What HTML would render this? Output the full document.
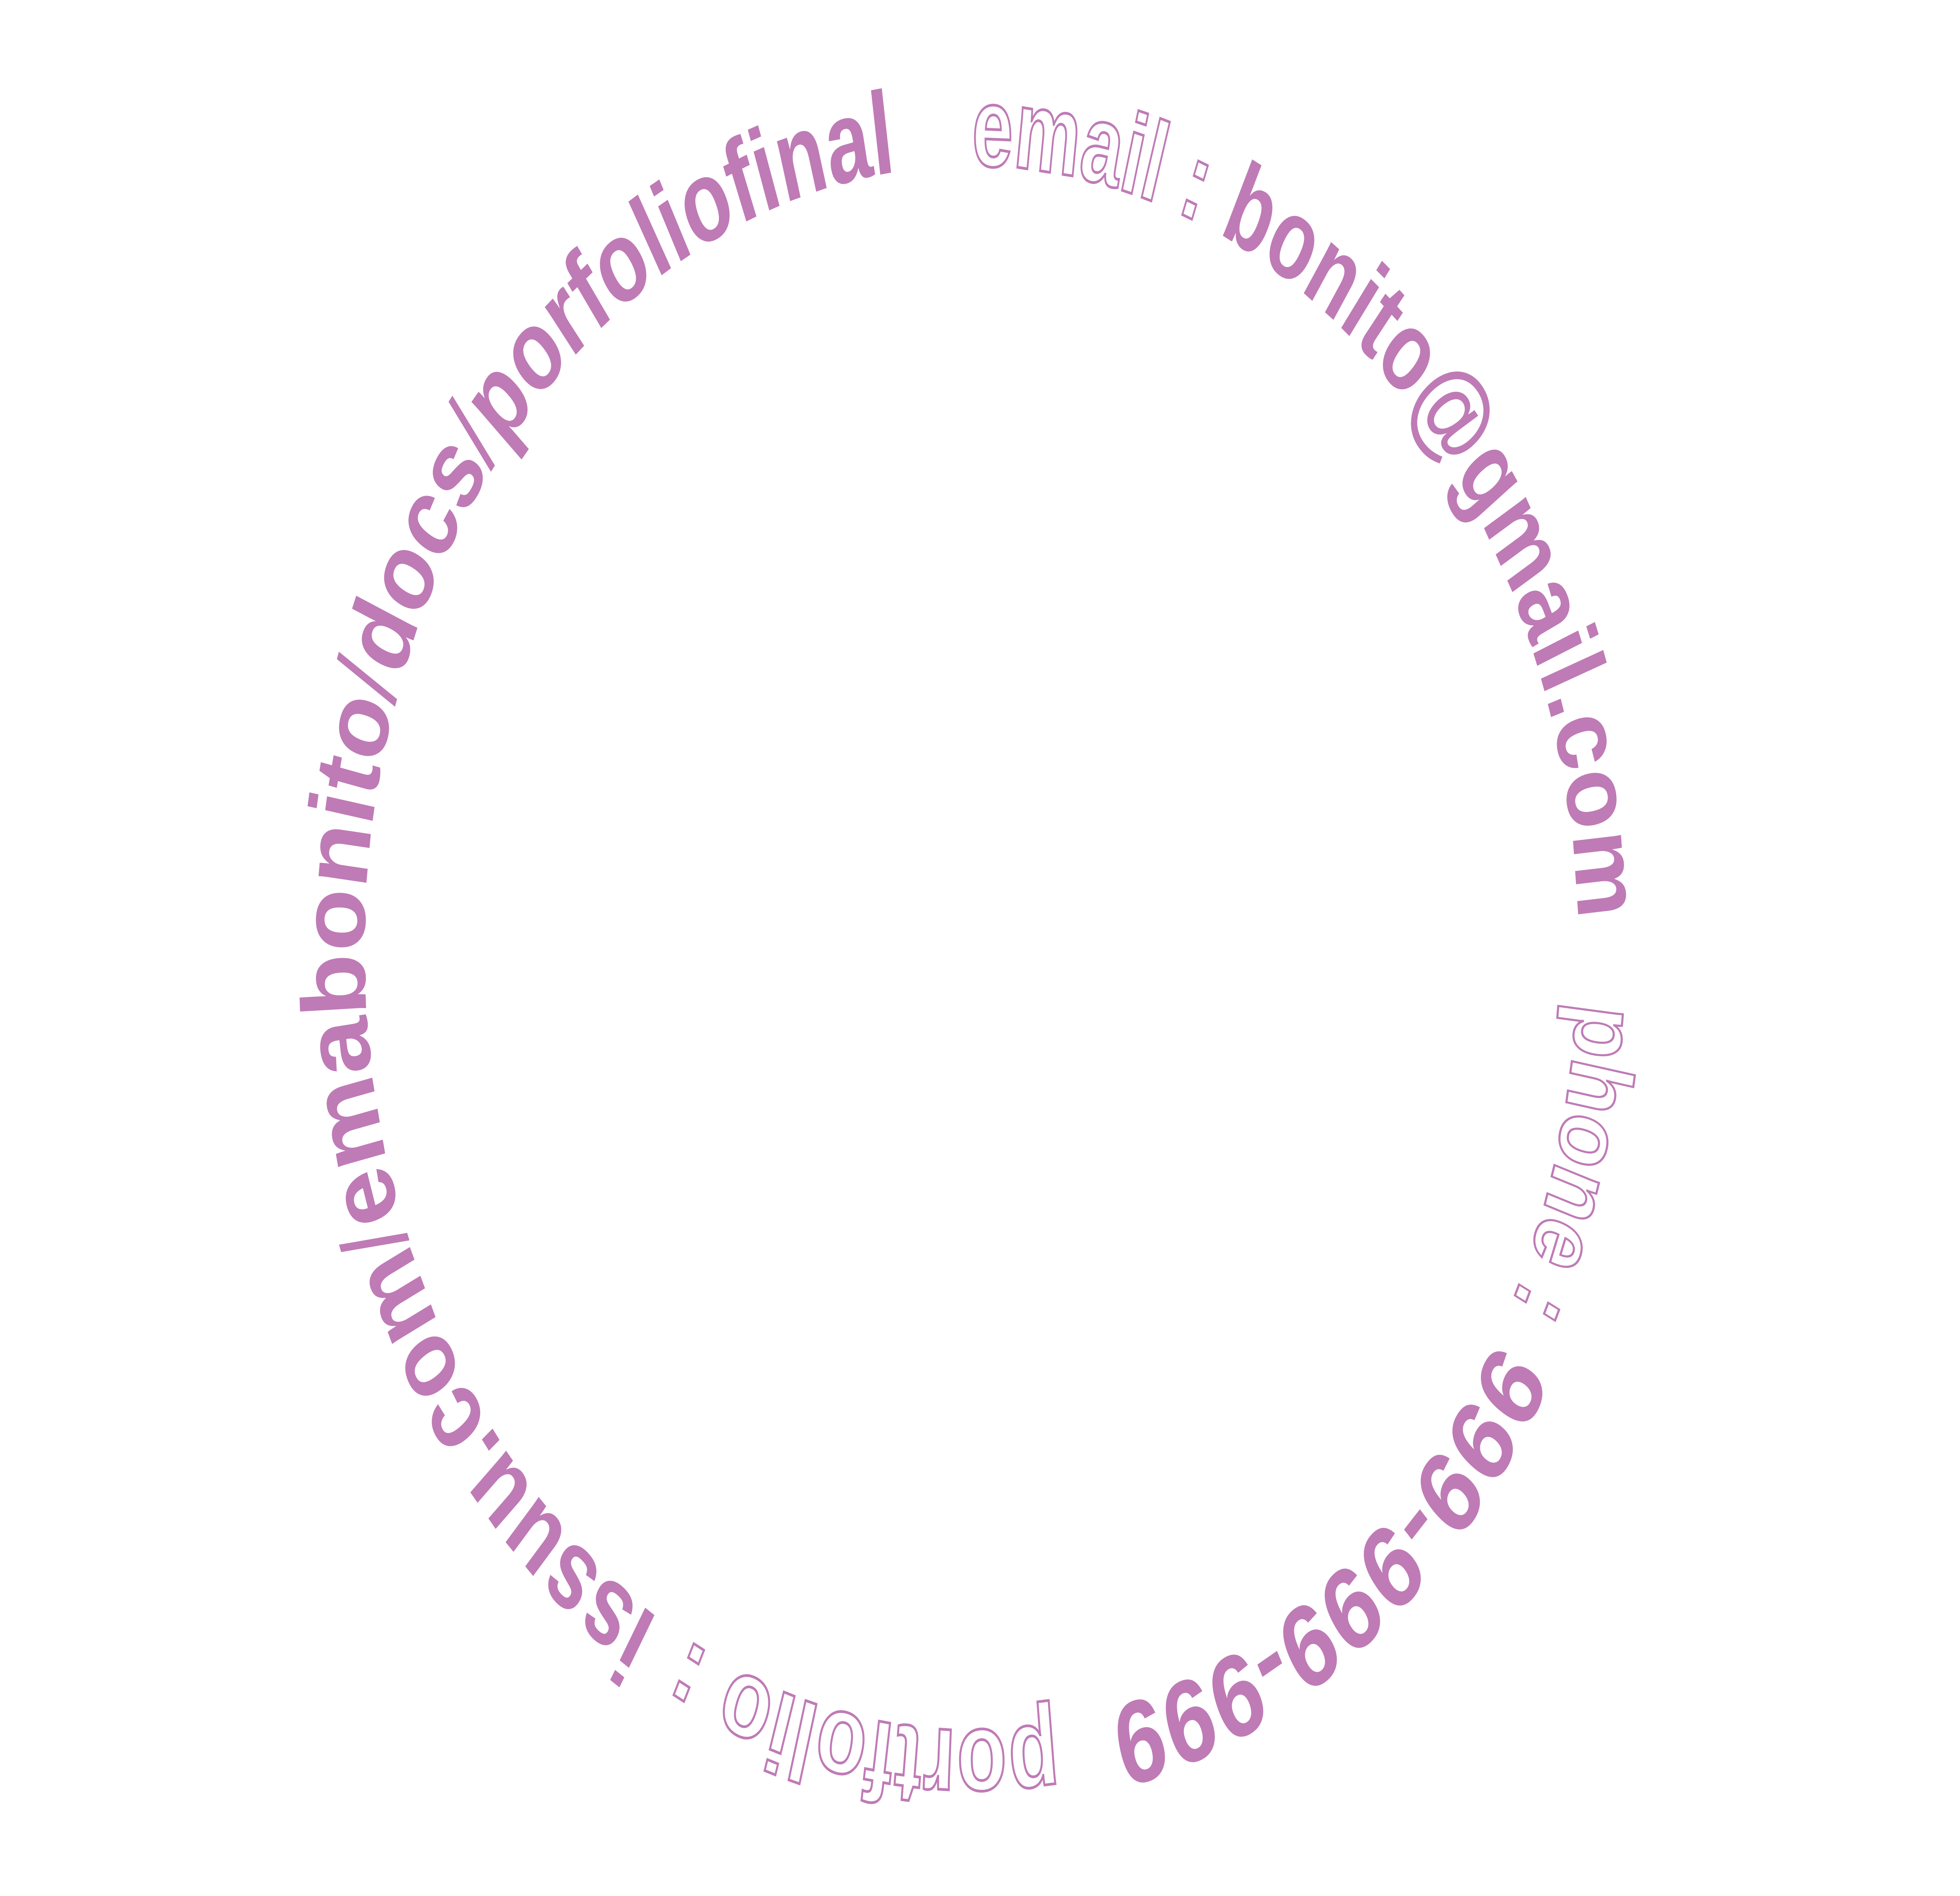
<!DOCTYPE html>
<html>
<head>
<meta charset="utf-8">
<style>
  html,body{margin:0;padding:0;background:#ffffff;width:6447px;height:4836px;overflow:hidden;}
  svg{display:block;width:100vw;height:100vh;}
  .fill{font-family:"Liberation Sans",sans-serif;font-weight:bold;fill:#bf7bb6;font-size:300px;}
  .outline{font-family:"Liberation Sans",sans-serif;font-weight:bold;fill:#ffffff;stroke:#bf7bb6;stroke-width:7px;font-size:290px;}
  .slash{font-weight:normal;}
</style>
</head>
<body>
<svg viewBox="0 0 6447 4836" preserveAspectRatio="none">
  <defs>
    <path id="ring" d="M3195,423 A1995,1995 0 1 1 3195,4413 A1995,1995 0 1 1 3195,423"/>
  </defs>
  <text class="outline">
    <textPath href="#ring" startOffset="0" textLength="766" lengthAdjust="spacingAndGlyphs">email :</textPath>
  </text>
  <text class="fill">
    <textPath href="#ring" startOffset="836" textLength="2228" lengthAdjust="spacingAndGlyphs">bonito@gmail.com</textPath>
  </text>
  <text class="outline">
    <textPath href="#ring" startOffset="3273" textLength="801" lengthAdjust="spacingAndGlyphs">phone :</textPath>
  </text>
  <text class="fill">
    <textPath href="#ring" startOffset="4178" textLength="1636" lengthAdjust="spacingAndGlyphs">999-999-999</textPath>
  </text>
  <text class="outline">
    <textPath href="#ring" startOffset="5989" textLength="1254" lengthAdjust="spacingAndGlyphs">portfolio :</textPath>
  </text>
  <text class="fill">
    <textPath href="#ring" startOffset="7347" textLength="4944" lengthAdjust="spacingAndGlyphs">issuu.com<tspan class="slash">/</tspan>emabonito<tspan class="slash">/</tspan>docs<tspan class="slash">/</tspan>porfoliofinal</textPath>
  </text>
</svg>
</body>
</html>
